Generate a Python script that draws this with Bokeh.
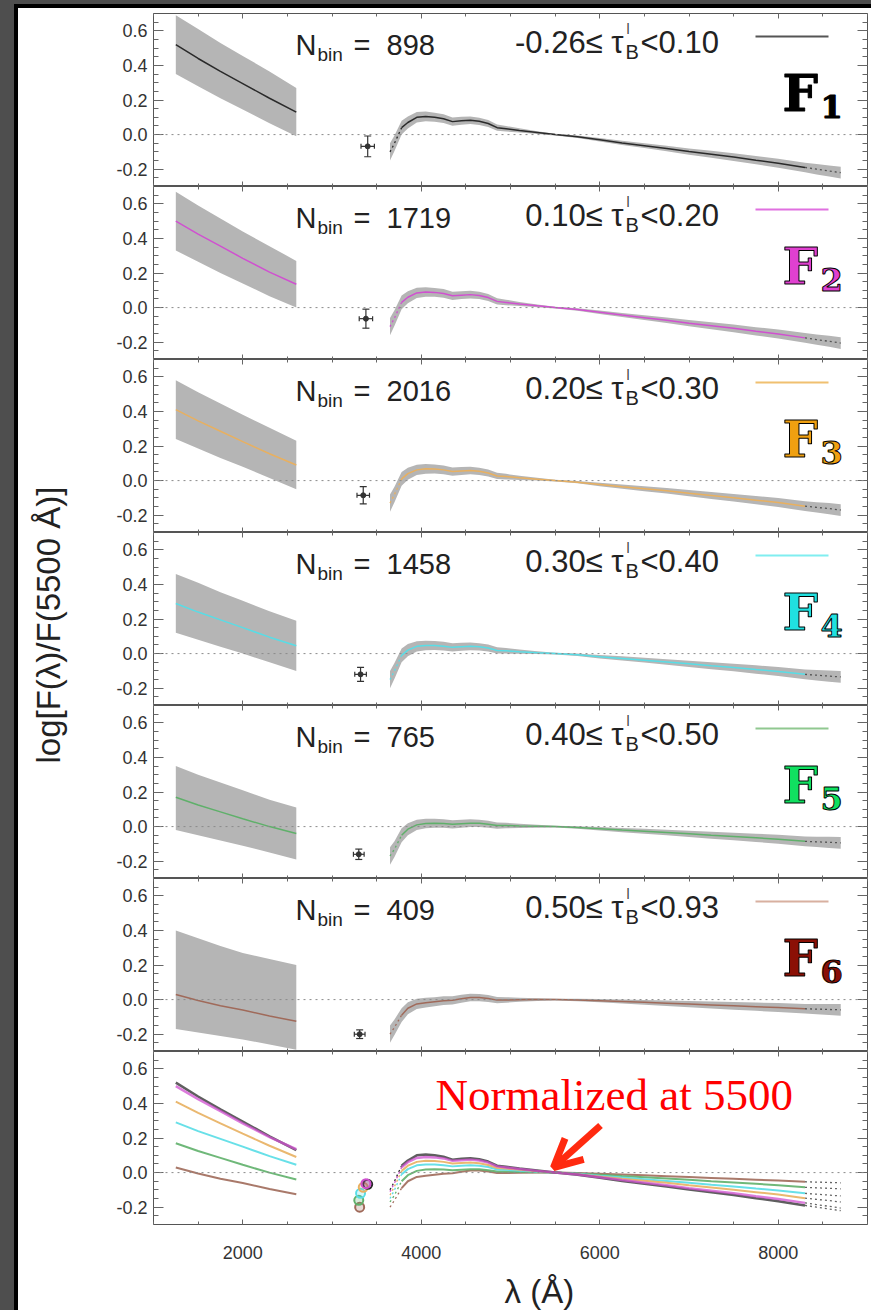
import numpy as np
from bokeh.plotting import figure
from bokeh.models import (ColumnDataSource, Range1d, LinearAxis, SingleIntervalTicker,
                          PrintfTickFormatter, Span, Whisker, TeeHead, Arrow, OpenHead, Div)
from bokeh.layouts import row, column
from bokeh.core.properties import value
from bokeh.embed import file_html
from bokeh.resources import INLINE

# ---------------- data ----------------
n_bin = [898, 1719, 2016, 1458, 765, 409]
tau_lo = ["-0.26", "0.10", "0.20", "0.30", "0.40", "0.50"]
tau_hi = ["0.10", "0.20", "0.30", "0.40", "0.50", "0.93"]
line_colors = ["#2a2a2a", "#d050d0", "#e8b060", "#58dde6", "#5fb06a", "#a06a5a"]
legend_colors = ["#555555", "#e070e0", "#f0c070", "#80eef0", "#90c890", "#d8b0a0"]
flabel_colors = ["#000000", "#e040d0", "#f0a010", "#20e0e0", "#10e060", "#8b1005"]

wl_uv = [1250, 1500, 1750, 2000, 2300, 2600]
uv_F1 = [0.52, 0.44, 0.365, 0.295, 0.21, 0.13]
uv_F2 = [0.50, 0.425, 0.355, 0.285, 0.205, 0.135]
uv_F3 = [0.41, 0.345, 0.285, 0.225, 0.155, 0.09]
uv_F4 = [0.29, 0.24, 0.195, 0.15, 0.095, 0.045]
uv_F5 = [0.17, 0.125, 0.085, 0.045, 0.0, -0.04]
uv_F6 = [0.03, -0.005, -0.035, -0.06, -0.095, -0.125]
uv_hi_F1 = [0.69, 0.61, 0.53, 0.455, 0.365, 0.27]
uv_hi_F2 = [0.67, 0.59, 0.515, 0.44, 0.355, 0.27]
uv_hi_F3 = [0.58, 0.51, 0.445, 0.38, 0.305, 0.23]
uv_hi_F4 = [0.46, 0.41, 0.355, 0.305, 0.245, 0.19]
uv_hi_F5 = [0.35, 0.30, 0.255, 0.21, 0.155, 0.11]
uv_hi_F6 = [0.40, 0.355, 0.31, 0.27, 0.235, 0.20]
uv_lo_F1 = [0.35, 0.28, 0.21, 0.145, 0.065, -0.01]
uv_lo_F2 = [0.33, 0.265, 0.20, 0.14, 0.065, 0.0]
uv_lo_F3 = [0.24, 0.185, 0.13, 0.08, 0.015, -0.05]
uv_lo_F4 = [0.12, 0.08, 0.04, 0.0, -0.05, -0.10]
uv_lo_F5 = [-0.02, -0.05, -0.08, -0.11, -0.15, -0.19]
uv_lo_F6 = [-0.17, -0.19, -0.21, -0.23, -0.26, -0.29]

wl_opt = [3650, 3700, 3780, 3850, 3950, 4050, 4150, 4250, 4350, 4450, 4550, 4650, 4750,
          4850, 4950, 5100, 5300, 5500, 5750, 6000, 6250, 6500, 6750, 7000, 7250, 7500,
          7750, 8000, 8300]
opt_F1 = [-0.10, -0.05, 0.04, 0.07, 0.10, 0.105, 0.10, 0.092, 0.075, 0.08, 0.083, 0.077, 0.064,
          0.04, 0.034, 0.024, 0.012, 0.0, -0.012, -0.03, -0.048, -0.064, -0.08, -0.098, -0.114,
          -0.13, -0.148, -0.165, -0.19]
opt_F2 = [-0.11, -0.06, 0.03, 0.06, 0.085, 0.09, 0.088, 0.082, 0.068, 0.072, 0.075, 0.07, 0.058,
          0.036, 0.03, 0.021, 0.01, 0.0, -0.011, -0.027, -0.043, -0.058, -0.073, -0.09, -0.105,
          -0.12, -0.137, -0.153, -0.175]
opt_F3 = [-0.13, -0.08, 0.01, 0.04, 0.062, 0.068, 0.067, 0.062, 0.052, 0.056, 0.058, 0.054, 0.044,
          0.027, 0.023, 0.016, 0.008, 0.0, -0.009, -0.022, -0.035, -0.047, -0.059, -0.073, -0.086,
          -0.099, -0.113, -0.127, -0.148]
opt_F4 = [-0.15, -0.10, -0.01, 0.02, 0.042, 0.047, 0.047, 0.043, 0.036, 0.04, 0.042, 0.039, 0.032,
          0.018, 0.016, 0.011, 0.005, 0.0, -0.007, -0.018, -0.028, -0.038, -0.048, -0.059, -0.07,
          -0.08, -0.092, -0.103, -0.12]
opt_F5 = [-0.17, -0.13, -0.05, -0.015, 0.01, 0.018, 0.02, 0.018, 0.013, 0.017, 0.02, 0.019, 0.014,
          0.006, 0.006, 0.004, 0.002, 0.0, -0.005, -0.012, -0.02, -0.027, -0.034, -0.042, -0.05,
          -0.057, -0.065, -0.073, -0.085]
opt_F6 = [-0.20, -0.16, -0.09, -0.05, -0.025, -0.018, -0.012, -0.006, -0.004, 0.005, 0.012, 0.012,
          0.006, -0.003, -0.002, -0.001, 0.0, 0.0, -0.002, -0.006, -0.011, -0.016, -0.021, -0.026,
          -0.031, -0.036, -0.041, -0.046, -0.053]
hw_opt = [0.05, 0.045, 0.04, 0.035, 0.03, 0.028, 0.026, 0.025, 0.024, 0.023, 0.022, 0.021, 0.02,
          0.018, 0.016, 0.012, 0.008, 0.005, 0.007, 0.01, 0.012, 0.014, 0.016, 0.018, 0.02, 0.022,
          0.024, 0.026, 0.028]

wl_ext = [8300, 8430, 8570, 8700]
ext_F1 = [-0.19, -0.20, -0.21, -0.22]
ext_F2 = [-0.175, -0.185, -0.195, -0.205]
ext_F3 = [-0.148, -0.155, -0.162, -0.17]
ext_F4 = [-0.12, -0.125, -0.13, -0.135]
ext_F5 = [-0.085, -0.088, -0.091, -0.094]
ext_F6 = [-0.053, -0.055, -0.057, -0.059]
hw_ext = [0.028, 0.03, 0.032, 0.034]

err_wl = [3400, 3380, 3350, 3320, 3300, 3310]
err_val = [-0.068, -0.064, -0.085, -0.12, -0.16, -0.20]
err_dy = [0.06, 0.055, 0.05, 0.04, 0.03, 0.025]
err_dx = [75, 75, 70, 65, 60, 60]

uv_mid = [uv_F1, uv_F2, uv_F3, uv_F4, uv_F5, uv_F6]
uv_hi = [uv_hi_F1, uv_hi_F2, uv_hi_F3, uv_hi_F4, uv_hi_F5, uv_hi_F6]
uv_lo = [uv_lo_F1, uv_lo_F2, uv_lo_F3, uv_lo_F4, uv_lo_F5, uv_lo_F6]
opt_all = [opt_F1, opt_F2, opt_F3, opt_F4, opt_F5, opt_F6]
ext_all = [ext_F1, ext_F2, ext_F3, ext_F4, ext_F5, ext_F6]

# ---------------- geometry helpers ----------------
X0, X1 = 1000, 9000
Y0, Y1 = -0.3, 0.7
FW, FH = 714, 173
FIG_W = 773


def xd(px):
    return X0 + px * (X1 - X0) / FW


def yd(py):
    return Y1 - py * (Y1 - Y0) / FH


def style_axis(ax, kind, labels):
    if kind == "x":
        ax.ticker = SingleIntervalTicker(interval=2000, num_minor_ticks=4)
        ax.major_tick_in = 5
        ax.minor_tick_in = 3
    else:
        ax.ticker = SingleIntervalTicker(interval=0.2, num_minor_ticks=4)
        ax.formatter = PrintfTickFormatter(format="%.1f")
        ax.major_tick_in = 10
        ax.minor_tick_in = 5
    ax.major_tick_out = 0
    ax.minor_tick_out = 0
    ax.axis_line_color = None
    ax.major_tick_line_color = "#666666"
    ax.minor_tick_line_color = "#666666"
    if labels:
        ax.major_label_text_font = "Liberation Sans"
        ax.major_label_text_font_size = "18px"
        ax.major_label_text_color = "#333333"
        ax.major_label_standoff = 6 if kind == "y" else 21
    else:
        ax.major_label_text_font_size = "0px"
        ax.major_label_text_color = None
        ax.major_label_standoff = 0


def make_fig(height, mbt, mbb, xlabels):
    p = figure(width=FIG_W, height=height, x_range=Range1d(X0, X1), y_range=Range1d(Y0, Y1),
               min_border_left=55, min_border_right=4, min_border_top=mbt, min_border_bottom=mbb,
               toolbar_location=None, output_backend="svg",
               background_fill_color="white", border_fill_color="white",
               outline_line_color="#555555", outline_line_width=1)
    p.grid.visible = False
    style_axis(p.xaxis[0], "x", xlabels)
    style_axis(p.yaxis[0], "y", True)
    top = LinearAxis()
    style_axis(top, "x", False)
    p.add_layout(top, "above")
    right = LinearAxis()
    style_axis(right, "y", False)
    p.add_layout(right, "right")
    p.add_layout(Span(location=0, dimension="width", line_color="#8a8a8a",
                      line_dash="2 4", line_width=1))
    return p


def txt(p, dx, dy, s, size, color="#222222", font="Liberation Sans", style="normal",
        align="left", outline=None):
    kw = dict(x=[X0], y=[Y1], text=[s], x_offset=dx, y_offset=dy,
              text_font=value(font), text_font_size=size, text_font_style=style,
              text_color=color, text_align=align, text_baseline="alphabetic")
    if outline is not None:
        try:
            return p.text(text_outline_color=outline, **kw)
        except Exception:
            pass
    return p.text(**kw)


figs = []
heights = [178, 173, 173, 173, 173, 173, 221]
for k in range(7):
    last = (k == 6)
    p = make_fig(heights[k], 5 if k == 0 else 0, 48 if last else 0, last)
    figs.append(p)

# ---------------- individual panels ----------------
for k in range(6):
    p = figs[k]
    col = line_colors[k]
    band_x = wl_opt + wl_ext[1:]
    mid = opt_all[k] + ext_all[k][1:]
    hw = hw_opt + hw_ext[1:]
    p.varea(x=wl_uv, y1=uv_lo[k], y2=uv_hi[k], fill_color="#b5b5b5")
    p.varea(x=band_x, y1=[m - h for m, h in zip(mid, hw)], y2=[m + h for m, h in zip(mid, hw)],
            fill_color="#b5b5b5")
    p.line(wl_uv, uv_mid[k], line_color=col, line_width=1.5)
    p.line(wl_opt[:3], opt_all[k][:3], line_color=col, line_width=1.3, line_dash="2 3")
    p.line(wl_opt[2:], opt_all[k][2:], line_color=col, line_width=1.5)
    p.line(wl_ext, ext_all[k], line_color="#555555", line_width=1.3, line_dash="2 3")

    src = ColumnDataSource(dict(x=[err_wl[k]], y=[err_val[k]],
                                yu=[err_val[k] + err_dy[k]], yl=[err_val[k] - err_dy[k]],
                                xu=[err_wl[k] + err_dx[k]], xl=[err_wl[k] - err_dx[k]]))
    p.add_layout(Whisker(source=src, base="x", upper="yu", lower="yl", dimension="height",
                         line_color="#333333", line_width=1.2,
                         upper_head=TeeHead(size=7, line_color="#333333", line_width=1.2),
                         lower_head=TeeHead(size=7, line_color="#333333", line_width=1.2)))
    p.add_layout(Whisker(source=src, base="y", upper="xu", lower="xl", dimension="width",
                         line_color="#333333", line_width=1.2,
                         upper_head=TeeHead(size=5, line_color="#333333", line_width=1.2),
                         lower_head=TeeHead(size=5, line_color="#333333", line_width=1.2)))
    p.scatter(x="x", y="y", source=src, marker="circle", size=5, fill_color="#333333",
              line_color="#333333")

    # N_bin label
    txt(p, 142, 31, "N", "29px")
    txt(p, 164, 41, "bin", "19px")
    txt(p, 200, 31, "=", "29px")
    txt(p, 233, 31, str(n_bin[k]), "29px")
    # tau legend
    txt(p, 470, 29, tau_lo[k] + "\u2264 \u03c4", "31px", align="right")
    txt(p, 472, 38, "B", "20px")
    txt(p, 473, 15, "l", "14px", color="#444444")
    txt(p, 487, 29, "<" + tau_hi[k], "31px")
    p.segment(x0=[xd(602)], y0=[yd(23)], x1=[xd(675)], y1=[yd(23)],
              line_color=legend_colors[k], line_width=2)
    # F label
    txt(p, 629, 80, "F", "50px", color=flabel_colors[k], font="DejaVu Serif", style="bold",
        outline="black")
    txt(p, 667, 93, str(k + 1), "32px", color=flabel_colors[k], font="DejaVu Serif",
        style="bold", outline="black")

# ---------------- comparison panel ----------------
p = figs[6]
order = [5, 4, 3, 2, 0, 1]
for k in order:
    col = line_colors[k]
    lw = 2.5 if k < 2 else 2
    alpha = 0.75 if k < 2 else 0.9
    p.line(wl_uv, uv_mid[k], line_color=col, line_width=lw, line_alpha=alpha)
    p.line(wl_opt[:3], opt_all[k][:3], line_color=col, line_width=1.3, line_dash="2 3")
    p.line(wl_opt[2:], opt_all[k][2:], line_color=col, line_width=lw, line_alpha=alpha)
    p.line(wl_ext, ext_all[k], line_color="#666666", line_width=1.3, line_dash="2 3")
    p.scatter(x=[err_wl[k]], y=[err_val[k]], marker="circle", size=9, line_color=col,
              line_width=2, fill_color=col, fill_alpha=0.25)

txt(p, 282, 43, "Normalized at 5500", "45px", color="#ff0000", font="Liberation Serif")
p.add_layout(Arrow(end=OpenHead(size=28, line_color="#ff2a10", line_width=7),
                   x_start=xd(447), y_start=yd(74), x_end=xd(400), y_end=yd(116),
                   line_color="#ff2a10", line_width=7))

# ---------------- axis titles ----------------
ylab = figure(width=80, height=1302, x_range=Range1d(0, 80), y_range=Range1d(0, 1302),
              min_border=0, toolbar_location=None, output_backend="svg",
              x_axis_type=None, y_axis_type=None, outline_line_color=None,
              background_fill_color="white", border_fill_color="white")
ylab.grid.visible = False
ylab.text(x=[30], y=[547], text=["log[F(\u03bb)/F(5500 \u00c5)]"], angle=np.pi / 2,
          text_align="left", text_baseline="middle", text_font=value("Liberation Sans"),
          text_font_size="33px", text_color="#222222")

xlab = figure(width=FIG_W, height=38, x_range=Range1d(0, FIG_W), y_range=Range1d(0, 38),
              min_border=0, toolbar_location=None, output_backend="svg",
              x_axis_type=None, y_axis_type=None, outline_line_color=None,
              background_fill_color="white", border_fill_color="white")
xlab.grid.visible = False
xlab.text(x=[380], y=[19], text=["\u03bb (\u00c5)"], text_align="left",
          text_baseline="middle", text_font=value("Liberation Sans"),
          text_font_size="33px", text_color="#222222")


def block(w, h, color):
    return Div(text="", width=w, height=h, margin=0,
               styles={"background-color": color, "padding": "0px", "margin": "0px"})


content = row(ylab, column(*figs, xlab))
layout = row(block(14, 1310, "#4e4e4e"),
             column(block(857, 4, "#4e4e4e"),
                    row(block(4, 1306, "#000000"),
                        column(block(853, 4, "#000000"), content))))

open("out.html", "w").write(file_html(layout, INLINE))
